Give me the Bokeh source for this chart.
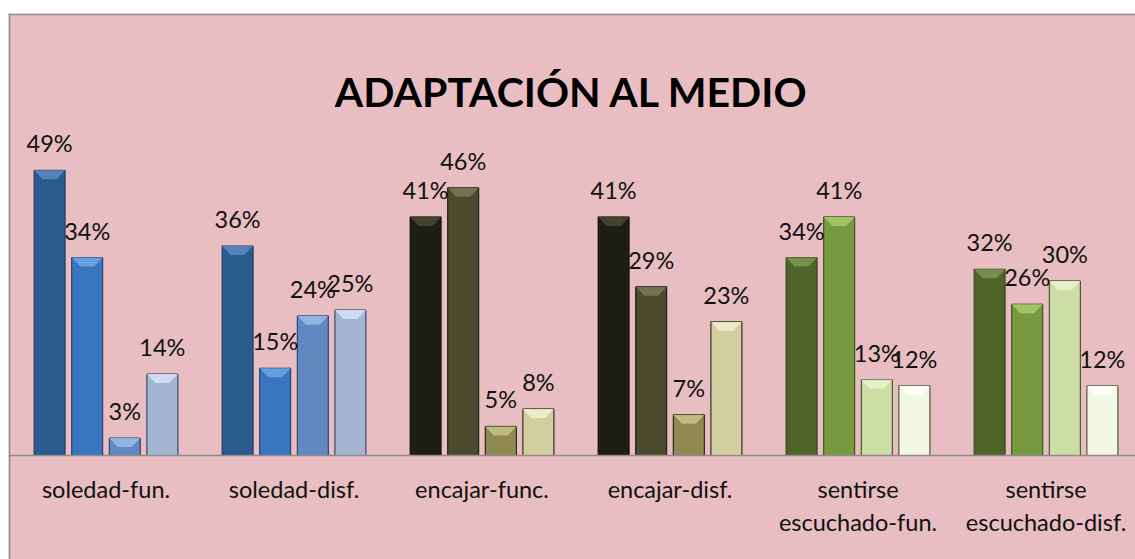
from bokeh.plotting import figure
from bokeh.models import Range1d, FixedTicker, Label, ColumnDataSource, Span
from bokeh.core.properties import value
from bokeh.embed import file_html
from bokeh.resources import INLINE

categories = ["soledad-fun.", "soledad-disf.", "encajar-func.", "encajar-disf.",
              "sentirse\nescuchado-fun.", "sentirse\nescuchado-disf."]
serie1 = [49, 36, 41, 41, 34, 32]
serie2 = [34, 15, 46, 29, 41, 26]
serie3 = [3, 24, 5, 7, 13, 30]
serie4 = [14, 25, 8, 23, 12, 12]
title_text = "ADAPTACIÓN AL MEDIO"

blue = ["#2B5A8F", "#3A75BF", "#6288C2", "#A3B5D3"]
olive = ["#1F1E15", "#4B4A2D", "#8F8A51", "#D2CEA2"]
green = ["#4E6428", "#789A3F", "#CCDEA6", "#F3F8E4"]
blue_l = ["#5A8AC4", "#6FA6E8", "#9BBCEB", "#D7E3F4"]
olive_l = ["#4A4936", "#7A7858", "#C8C285", "#F3F0CF"]
green_l = ["#7C9650", "#A9CB6C", "#EAF5CF", "#FFFFFF"]
edge = ["#1B3555", "#1B3555", "#111108", "#111108", "#2F4016", "#2F4016"]
palettes = [blue, blue, olive, olive, green, green]
palettes_l = [blue_l, blue_l, olive_l, olive_l, green_l, green_l]

series = [serie1, serie2, serie3, serie4]
offsets = [-0.3, -0.1, 0.1, 0.3]
bar_w = 0.165
px_per_unit = 5.82

xs, tops, cols, lcols, labels = [], [], [], [], []
bev_xs, bev_ys, bev_cols = [], [], []
for s, (vals, off) in enumerate(zip(series, offsets)):
    for i, v in enumerate(vals):
        xc = i + 0.5 + off
        xs.append(xc)
        tops.append(v)
        cols.append(palettes[i][s])
        lcols.append(edge[i])
        labels.append(f"{v}%")
        d = 9.0 / px_per_unit
        h = bar_w / 2
        bev_xs.append([xc - h, xc + h, xc + h * 0.45, xc - h * 0.45])
        bev_ys.append([v, v, v - d, v - d])
        bev_cols.append(palettes_l[i][s])

src = ColumnDataSource(dict(x=xs, top=tops, color=cols, lcolor=lcols, label=labels))

W, H = 1127, 546
x0, x1 = -0.0186, 5.976
y0, y1 = -104 / px_per_unit, 442 / px_per_unit
p = figure(width=W, height=H, output_backend="svg", toolbar_location=None,
           x_range=Range1d(x0, x1), y_range=Range1d(y0, y1),
           min_border=0, min_border_left=0, min_border_right=0,
           min_border_top=0, min_border_bottom=0)
p.margin = (13, 0, 0, 8)
p.background_fill_color = "#E8BEC2"
p.border_fill_color = "#E8BEC2"
p.outline_line_color = None
p.xgrid.visible = False
p.ygrid.visible = False
p.yaxis.visible = False

px_x = (x1 - x0) / W
px_y = 1.0 / px_per_unit
p.add_layout(Span(location=x0 + px_x, dimension="height", line_color="#8A8A8A", line_width=1.5))
p.add_layout(Span(location=y1 - px_y, dimension="width", line_color="#8A8A8A", line_width=1.5))

p.vbar(x="x", top="top", bottom=0, width=bar_w, source=src,
       fill_color="color", line_color="lcolor", line_width=1)
p.patches(bev_xs, bev_ys, fill_color=bev_cols, line_color=None, fill_alpha=0.85)

p.text(x="x", y="top", text="label", source=src, y_offset=-27,
       text_align="center", text_baseline="alphabetic",
       text_font=value("Lato"), text_font_size="23.5px", text_color="#111111")

ax = p.xaxis[0]
ax.fixed_location = 0
ax.ticker = FixedTicker(ticks=[i + 0.5 for i in range(len(categories))])
ax.major_label_overrides = {i + 0.5: c for i, c in enumerate(categories)}
ax.axis_line_color = "#8C8C8C"
ax.axis_line_width = 1.5
ax.major_tick_line_color = None
ax.minor_tick_line_color = None
ax.major_tick_in = 0
ax.major_tick_out = 0
ax.major_label_standoff = 19
ax.major_label_text_font = "Lato"
ax.major_label_text_font_size = "23.5px"
ax.major_label_text_color = "#111111"

p.add_layout(Label(x=(x0 + x1) / 2, y=(347 + 17) / px_per_unit, text=title_text,
                   text_align="center", text_baseline="alphabetic",
                   text_font="Lato", text_font_style="bold",
                   text_font_size="41px", text_color="#000000"))

open("out.html", "w").write(file_html(p, INLINE))
